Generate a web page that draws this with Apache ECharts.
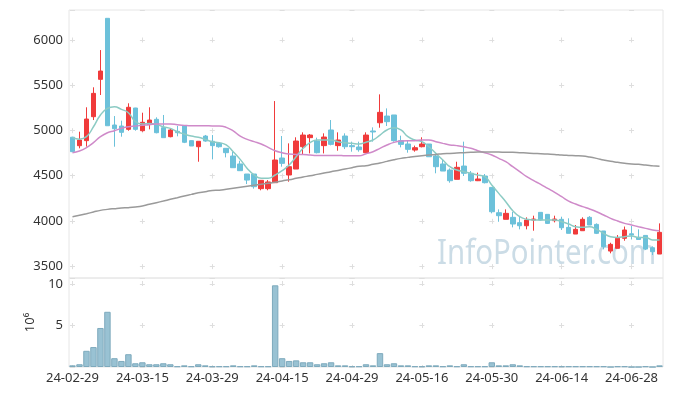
<!DOCTYPE html>
<html>
<head>
<meta charset="utf-8">
<script src="https://cdn.jsdelivr.net/npm/echarts@6/dist/echarts.min.js"></script>
<style>
html,body{margin:0;padding:0;background:#fff;}
#c{width:673px;height:396px;}
</style>
</head>
<body>
<div id="c"></div>
<script>
const dates = ['24-02-29',
'24-03-04','24-03-05','24-03-06','24-03-07','24-03-08','24-03-11','24-03-12','24-03-13','24-03-14','24-03-15',
'24-03-18','24-03-19','24-03-20','24-03-21','24-03-22','24-03-25','24-03-26','24-03-27','24-03-28','24-03-29',
'24-04-01','24-04-02','24-04-03','24-04-04','24-04-05','24-04-08','24-04-09','24-04-11','24-04-12','24-04-15',
'24-04-16','24-04-17','24-04-18','24-04-19','24-04-22','24-04-23','24-04-24','24-04-25','24-04-26','24-04-29',
'24-04-30','24-05-02','24-05-03','24-05-07','24-05-08','24-05-09','24-05-10','24-05-13','24-05-14','24-05-16',
'24-05-17','24-05-20','24-05-21','24-05-22','24-05-23','24-05-24','24-05-27','24-05-28','24-05-29','24-05-30',
'24-05-31','24-06-03','24-06-04','24-06-05','24-06-07','24-06-10','24-06-11','24-06-12','24-06-13','24-06-14',
'24-06-17','24-06-18','24-06-19','24-06-20','24-06-21','24-06-24','24-06-25','24-06-26','24-06-27','24-06-28',
'24-07-01','24-07-02','24-07-03','24-07-04'];

const openP  = [4925,4831,4887,5152,5565,6240,5060,5049,5012,5248,4997,5067,5123,5030,4931,4990,5049,4887,4820,4938,
                4880,4857,4802,4717,4629,4518,4518,4356,4356,4422,4695,4507,4573,4820,4920,4883,4832,5005,4832,4938,
                4832,4817,4754,4994,5085,5159,5171,4887,4850,4783,4820,4850,4717,4629,4562,4459,4606,4526,4444,4496,
                4370,4090,4017,4039,3980,3946,4009,4094,4072,4002,4017,3928,3854,3891,4039,3961,3888,3666,3696,3807,
                3857,3817,3839,3703,3633];
const closeP = [4765,4894,5126,5410,5657,5052,5019,4979,5256,5012,5090,5115,4975,4920,5005,4975,4869,4828,4880,4883,
                4832,4820,4754,4588,4555,4451,4378,4448,4430,4673,4636,4599,4883,4949,4949,4754,4927,4846,4894,4820,
                4820,4787,4949,4983,5200,5097,4887,4846,4791,4809,4850,4709,4599,4551,4444,4592,4526,4444,4463,4422,
                4101,4057,4083,3965,3946,4009,4020,4009,3972,4020,3924,3862,3906,4017,3954,3862,3714,3740,3807,3899,
                3843,3794,3688,3659,3873];
const lowP   = [4760,4802,4821,5115,5392,5052,4820,4931,4997,4997,4986,5012,4968,4920,4924,4935,4860,4828,4654,4875,
                4680,4810,4702,4588,4555,4407,4356,4338,4338,4420,4599,4433,4573,4728,4746,4746,4746,4835,4776,4794,
                4765,4765,4754,4876,5030,5049,4876,4813,4754,4765,4813,4709,4526,4551,4422,4459,4496,4433,4440,4414,
                4083,3990,4017,3928,3906,3906,3891,4002,3965,3983,3899,3862,3854,3891,3954,3854,3685,3641,3696,3780,
                3794,3794,3677,3622,3633];
const highP  = [4930,4986,5256,5477,5889,6240,5159,5108,5300,5250,5196,5256,5145,5171,5023,5050,5049,4890,4880,4950,
                4949,4870,4802,4765,4665,4518,4518,4448,4451,5325,4938,4857,4924,4979,4960,4920,4968,5115,4979,4968,
                4876,4876,4979,5034,5399,5244,5171,4942,4894,4832,4924,4850,4746,4673,4580,4654,4876,4551,4533,4518,
                4370,4127,4127,4098,4046,4039,4057,4094,4072,4057,4046,4028,3954,4039,4053,3972,3888,3758,3843,3937,
                3943,3906,3839,3718,3972];

const ma5  = [4924,4903,4931,5041,5171,5244,5262,5233,5196,5097,5071,5078,5067,5041,5023,4986,4960,4938,4924,4901,
              4876,4865,4839,4765,4680,4580,4507,4470,4470,4507,4555,4617,4710,4802,4865,4894,4894,4894,4876,4865,
              4857,4850,4870,4894,4949,5005,5030,5005,4931,4894,4876,4820,4746,4673,4599,4562,4544,4526,4507,4489,
              4396,4304,4212,4112,4046,4017,4009,4009,4009,4009,3991,3965,3935,3928,3935,3906,3862,3825,3817,3825,
              3832,3817,3817,3788,3788];
const ma20 = [4754,4772,4809,4865,4931,4975,4997,5023,5041,5049,5056,5063,5071,5071,5071,5063,5056,5052,5052,5052,
              5049,5049,5034,4994,4938,4901,4876,4850,4813,4776,4754,4739,4735,4735,4728,4724,4724,4724,4724,4720,
              4720,4720,4742,4765,4802,4839,4868,4883,4887,4887,4894,4894,4876,4857,4839,4832,4820,4802,4776,4754,
              4728,4691,4654,4599,4544,4489,4444,4404,4359,4315,4267,4219,4186,4157,4131,4101,4065,4028,3998,3972,
              3954,3935,3917,3899,3891];
const ma60 = [4046,4061,4079,4098,4116,4127,4135,4142,4146,4153,4164,4183,4201,4219,4238,4256,4275,4293,4311,4322,
              4337,4338,4349,4360,4371,4382,4393,4404,4415,4426,4441,4455,4470,4485,4499,4514,4529,4544,4558,4573,
              4588,4603,4610,4625,4639,4658,4676,4691,4702,4713,4721,4728,4735,4743,4746,4750,4754,4758,4761,4761,
              4761,4761,4758,4758,4754,4750,4746,4743,4739,4735,4728,4724,4721,4717,4706,4691,4673,4658,4647,4636,
              4628,4625,4617,4610,4603];

const volume = [0.2,0.33,1.95,2.4,4.7,6.65,1.06,0.73,1.54,0.45,0.57,0.33,0.33,0.45,0.33,0.08,0.2,0.08,0.33,0.2,
                0.08,0.08,0.08,0.2,0.08,0.08,0.2,0.08,0.08,9.84,1.06,0.73,0.8,0.57,0.57,0.33,0.45,0.57,0.2,0.2,
                0.08,0.08,0.33,0.2,1.67,0.33,0.45,0.2,0.2,0.08,0.08,0.2,0.2,0.08,0.2,0.08,0.33,0.08,0.08,0.08,
                0.57,0.2,0.2,0.33,0.2,0.08,0.08,0.08,0.08,0.08,0.08,0.08,0.08,0.08,0.08,0.08,0.08,0,0.08,0.08,
                0,0,0.08,0,0.2];

const priceTicks = [3500,4000,4500,5000,5500,6000];
const volTicks = [5,10];

const candleData = dates.map((d,i)=>[openP[i],closeP[i],lowP[i],highP[i]]);

const FONT = 'Noto Sans';
const crossColor = '#dedede';
const hDash = {color: crossColor, width: 1, type: [5, 64.88], dashOffset: 68.88};

const chart = echarts.init(document.getElementById('c'), null, {renderer:'canvas'});
chart.setOption({
  animation: false,
  backgroundColor: '#ffffff',
  textStyle: {fontFamily: FONT},
  grid: [
    {left: 69, right: 10, top: 10, height: 268, show: true, borderColor: '#e6e6e6', borderWidth: 1, backgroundColor: 'transparent'},
    {left: 69, right: 10, top: 278, height: 89, show: true, borderColor: '#e6e6e6', borderWidth: 1, backgroundColor: 'transparent'}
  ],
  graphic: [{
    type: 'text', z: 0, x: 437, y: 254, scaleX: 0.84,
    style: {text: 'InfoPointer.com', fontFamily: FONT, fontSize: 35, fill: '#cbdce6', verticalAlign: 'middle', align: 'left'}
  }],
  xAxis: [
    {type: 'category', gridIndex: 0, data: dates, boundaryGap: true,
     axisLine: {show: false}, axisTick: {show: false}, axisLabel: {show: false},
     splitLine: {show: true, interval: 9, alignWithLabel: true,
       lineStyle: {color: crossColor, width: 1, type: [5, 40.33], dashOffset: 17.83}}},
    {type: 'category', gridIndex: 1, data: dates, boundaryGap: true,
     axisLine: {show: false}, axisTick: {show: false},
     axisLabel: {show: true, interval: 9, fontFamily: FONT, fontSize: 13, color: '#333', margin: 5},
     splitLine: {show: true, interval: 9, alignWithLabel: true,
       lineStyle: {color: crossColor, width: 1, type: [5, 37], dashOffset: 39}}}
  ],
  yAxis: [
    {type: 'value', gridIndex: 0, min: 3368, max: 6332, scale: true, splitNumber: 5,
     axisLine: {show: false}, axisTick: {show: false},
     axisLabel: {fontFamily: FONT, fontSize: 13, color: '#333', margin: 6, showMinLabel: false, showMaxLabel: false,
       formatter: v => priceTicks.indexOf(v) >= 0 ? String(v) : ''},
     splitLine: {show: true, lineStyle: hDash}},
    {type: 'value', gridIndex: 1, min: 0, max: 10.72, interval: 5,
     name: '10⁶', nameLocation: 'middle', nameRotate: 90, nameGap: 28,
     nameTextStyle: {fontFamily: FONT, fontSize: 13, color: '#333'},
     axisLine: {show: false}, axisTick: {show: false},
     axisLabel: {fontFamily: FONT, fontSize: 13, color: '#333', margin: 6, showMinLabel: false, showMaxLabel: false,
       formatter: v => volTicks.indexOf(v) >= 0 ? String(v) : ''},
     splitLine: {show: true, lineStyle: hDash}}
  ],
  series: [
    {type: 'candlestick', xAxisIndex: 0, yAxisIndex: 0, data: candleData, barWidth: 5,
     itemStyle: {color: '#f03b3b', color0: '#6cc1da', borderColor: '#f03b3b', borderColor0: '#6cc1da', borderWidth: 1}},
    {type: 'line', xAxisIndex: 0, yAxisIndex: 0, data: ma5, smooth: true, showSymbol: false, symbol: 'none',
     lineStyle: {color: '#8ccbc4', width: 1.5}},
    {type: 'line', xAxisIndex: 0, yAxisIndex: 0, data: ma20, smooth: true, showSymbol: false, symbol: 'none',
     lineStyle: {color: '#cf8ac9', width: 1.5}},
    {type: 'line', xAxisIndex: 0, yAxisIndex: 0, data: ma60, smooth: true, showSymbol: false, symbol: 'none',
     lineStyle: {color: '#9a9a9a', width: 1.5}},
    {type: 'bar', xAxisIndex: 1, yAxisIndex: 1, data: volume, barCategoryGap: '8%',
     itemStyle: {color: '#99c2d3', borderColor: '#7eaabd', borderWidth: 1}}
  ]
});
</script>
</body>
</html>
